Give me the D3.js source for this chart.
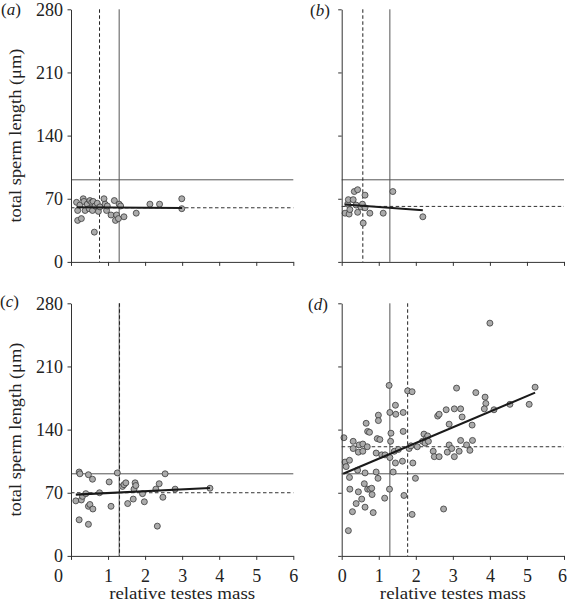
<!DOCTYPE html>
<html><head><meta charset="utf-8">
<script src="https://cdn.jsdelivr.net/npm/d3@7"></script>
<style>body{margin:0;background:#fff}</style>
</head><body>
<svg id="chart" width="567" height="607"></svg>
<script>
// ---------- data ----------
const xTicks = [0, 1, 2, 3, 4, 5, 6];
const yTicks = [0, 70, 140, 210, 280];
const panelNames = ["a", "b", "c", "d"];
const xTitle = "relative testes mass";
const yTitle = "total sperm length (μm)";

const pointsA = [[0.15,66],[0.18,57],[0.24,63],[0.33,70],[0.35,67],[0.38,57],[0.44,64],[0.49,59],[0.51,68],[0.56,66],
  [0.58,57],[0.60,67],[0.65,62],[0.71,65],[0.74,56],[0.78,61],[0.89,70],[0.92,64],[0.96,57],[0.98,62],[1.08,52],
  [1.17,68],[1.20,46],[1.23,52],[1.28,48],[1.30,64],[1.34,62],[1.43,50],[0.18,46],[0.28,48],[0.63,33],[1.76,54],
  [2.13,64],[2.39,64],[2.99,70],[2.99,59]];
const pointsB = [[0.09,54],[0.20,53],[0.16,64],[0.18,69],[0.22,58],[0.31,69],[0.34,78],[0.43,80],[0.39,63],[0.43,55],
  [0.52,61],[0.56,64],[0.58,43],[0.63,74],[0.63,60],[0.76,54],[1.12,54],[1.38,78],[2.19,50]];
const pointsC = [[0.13,61],[0.22,93],[0.24,91],[0.28,62],[0.31,66],[0.40,69],[0.47,90],[0.58,85],[0.47,55],[0.51,57],
  [0.59,52],[0.22,40],[0.47,35],[0.77,70],[1.03,82],[1.08,55],[1.25,92],[1.39,77],[1.43,79],[1.48,81],[1.53,58],
  [1.70,74],[1.73,81],[1.75,78],[1.68,63],[1.93,69],[1.98,60],[2.29,74],[2.33,33],[2.38,80],[2.48,65],[2.54,91],
  [2.81,74],[3.75,75]];
const pointsD = [[0.06,131],[0.09,104],[0.12,99],[0.21,106],[0.18,28],[0.21,87],[0.22,74],[0.29,49],[0.31,127],[0.31,119],
  [0.39,58],[0.43,95],[0.45,71],[0.47,123],[0.45,115],[0.54,63],[0.57,124],[0.57,116],[0.63,54],[0.63,92],[0.66,147],
  [0.61,80],[0.69,121],[0.70,138],[0.75,137],[0.70,74],[0.76,74],[0.81,75],[0.85,48],[0.82,68],[0.93,114],[0.93,93],
  [0.98,86],[0.99,156],[0.99,150],[0.96,130],[1.03,129],[1.08,112],[1.16,64],[1.17,112],[1.28,189],[1.30,159],
  [1.29,74],[1.32,127],[1.33,136],[1.30,109],[1.39,93],[1.42,116],[1.45,103],[1.45,167],[1.46,157],[1.53,118],
  [1.64,105],[1.66,159],[1.66,138],[1.68,67],[1.78,183],[1.90,182],[1.82,119],[1.87,122],[1.92,103],[1.90,46],
  [1.99,86],[2.04,121],[2.18,127],[2.22,135],[2.25,125],[2.29,131],[2.32,133],[2.34,127],[2.47,116],[2.50,110],
  [2.63,110],[2.59,155],[2.63,157],[2.75,52],[2.82,162],[2.85,115],[2.90,146],[2.90,123],[2.97,119],[3.04,163],
  [3.04,110],[3.10,186],[3.17,116],[3.21,163],[3.21,128],[3.25,154],[3.37,123],[3.46,117],[3.52,145],[3.53,128],
  [3.62,181],[3.87,176],[3.89,169],[3.85,163],[4.00,258],[4.11,162],[4.54,168],[5.06,168],[5.22,187]];
const panelPoints = [pointsA, pointsB, pointsC, pointsD];

const solidX = [1.3, 1.3, 1.3, 1.3];
const solidY = [91, 91, 91, 91];
const dashedX = [0.77, 0.57, 1.31, 1.78];
const dashedY = [60, 61.5, 70, 121];
const regLines = [
  [[0.15, 60.6], [3.0, 59.8]],
  [[0.09, 63.7], [2.19, 57.3]],
  [[0.13, 67.9], [3.75, 75.3]],
  [[0.04, 91], [5.22, 181]]
];

// ---------- layout ----------
const W = 222.3, H = 252.6;
const origins = [[71, 9.3], [341.7, 9.3], [71, 303.3], [341.7, 303.3]];
const labelPos = [[1, 15], [310, 16], [0, 307], [308, 310]];
const showXLabels = [false, false, true, true];
const showYLabels = [true, false, true, false];
const FONT = "'Liberation Serif','Times New Roman',serif";
const AXIS = "#333";

const svg = d3.select("#chart");
const x = d3.scaleLinear().domain([0, 6]).range([0, W]);
const y = d3.scaleLinear().domain([0, 280]).range([H, 0]);

panelNames.forEach((name, i) => {
  const g = svg.append("g").attr("transform", `translate(${origins[i][0]},${origins[i][1]})`);

  // reference lines
  g.append("line").attr("x1", 0).attr("x2", W).attr("y1", y(solidY[i])).attr("y2", y(solidY[i]))
    .attr("stroke", "#555").attr("stroke-width", 1);
  g.append("line").attr("x1", x(solidX[i])).attr("x2", x(solidX[i])).attr("y1", 0).attr("y2", H)
    .attr("stroke", "#555").attr("stroke-width", 1);
  g.append("line").attr("x1", 0).attr("x2", W).attr("y1", y(dashedY[i])).attr("y2", y(dashedY[i]))
    .attr("stroke", "#333").attr("stroke-width", 1).attr("stroke-dasharray", "3.5,2.5");
  g.append("line").attr("x1", x(dashedX[i])).attr("x2", x(dashedX[i])).attr("y1", 0).attr("y2", H)
    .attr("stroke", "#222").attr("stroke-width", 1).attr("stroke-dasharray", "3.5,2.5");

  // points
  g.selectAll("circle.pt").data(panelPoints[i]).enter().append("circle")
    .attr("class", "pt")
    .attr("cx", d => x(d[0])).attr("cy", d => y(d[1])).attr("r", 3)
    .attr("fill", "#ababab").attr("stroke", "#3a3a3a").attr("stroke-width", 0.8);

  // regression
  g.append("path").datum(regLines[i])
    .attr("d", d3.line().x(d => x(d[0])).y(d => y(d[1])))
    .attr("stroke", "#1a1a1a").attr("stroke-width", 2.1).attr("fill", "none");

  // axes
  const xa = d3.axisBottom(x).tickValues(xTicks).tickSize(4).tickSizeOuter(0).tickPadding(9)
    .tickFormat(showXLabels[i] ? d3.format("d") : () => "");
  const gx = g.append("g").attr("transform", `translate(0,${H})`).call(xa);
  const ya = d3.axisLeft(y).tickValues(yTicks).tickSize(3.5).tickSizeOuter(0).tickPadding(4.5)
    .tickFormat(showYLabels[i] ? d3.format("d") : () => "");
  const gy = g.append("g").call(ya);
  [gx, gy].forEach(a => {
    a.selectAll("path,line").attr("stroke", AXIS).attr("stroke-width", 1);
    a.selectAll("text").attr("font-family", FONT).attr("font-size", 18).attr("fill", "#222");
  });
  if (i === 2) gx.selectAll(".tick").filter(d => d === 0).select("text").attr("x", -13);
  if (i === 3) gx.selectAll(".tick").filter(d => d === 6).select("text").attr("x", -2);

  if (showXLabels[i]) {
    g.append("text").attr("x", W / 2).attr("y", H + 43).attr("text-anchor", "middle")
      .attr("font-family", FONT).attr("font-size", 17).attr("fill", "#222")
      .attr("textLength", 146).attr("lengthAdjust", "spacingAndGlyphs").text(xTitle);
  }
  if (showYLabels[i]) {
    g.append("text").attr("transform", `translate(${20.5 - origins[i][0]},${H / 2}) rotate(-90)`)
      .attr("text-anchor", "middle").attr("font-family", FONT).attr("font-size", 17).attr("fill", "#222")
      .attr("textLength", 174).attr("lengthAdjust", "spacingAndGlyphs")
      .text(yTitle);
  }

  // panel label
  const lab = svg.append("text").attr("x", labelPos[i][0]).attr("y", labelPos[i][1])
    .attr("font-family", FONT).attr("font-size", 17).attr("fill", "#222");
  lab.append("tspan").text("(");
  lab.append("tspan").attr("font-style", "italic").text(name);
  lab.append("tspan").text(")");
});
</script>
</body></html>
